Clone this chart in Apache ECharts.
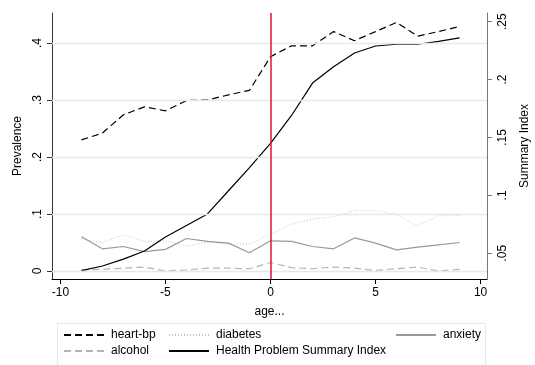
<!DOCTYPE html>
<html>
<head>
<meta charset="utf-8">
<script src="https://cdn.jsdelivr.net/npm/echarts@6/dist/echarts.min.js"></script>
<style>html,body{margin:0;padding:0;background:#fff;}#c{width:535px;height:365px;}</style>
</head>
<body>
<div id="c"></div>
<script>
const ages = [-9,-8,-7,-6,-5,-4,-3,-2,-1,0,1,2,3,4,5,6,7,8,9];
const heartBp = [0.230,0.242,0.274,0.288,0.281,0.299,0.300,0.309,0.317,0.376,0.395,0.395,0.420,0.404,0.420,0.436,0.412,0.420,0.429];
const diabetes = [0.056,0.050,0.063,0.052,0.053,0.044,0.050,0.047,0.047,0.065,0.082,0.091,0.095,0.106,0.106,0.099,0.079,0.097,0.097];
const anxiety = [0.060,0.039,0.043,0.034,0.038,0.057,0.052,0.049,0.032,0.053,0.052,0.043,0.039,0.058,0.049,0.037,0.042,0.046,0.050];
const alcohol = [0.002,0.003,0.005,0.007,0.000,0.002,0.005,0.005,0.004,0.015,0.006,0.004,0.007,0.005,0.001,0.004,0.007,0.000,0.003];
const summaryIndex = [0.035,0.039,0.045,0.052,0.064,0.074,0.084,0.104,0.124,0.145,0.169,0.197,0.211,0.223,0.229,0.2305,0.2305,0.233,0.236];

const xTicks = [-10,-5,0,5,10];
const leftTicks = [0,0.1,0.2,0.3,0.4];
const leftTickLabels = ['0','.1','.2','.3','.4'];
const rightTicks = [0.05,0.1,0.15,0.2,0.25];
const rightTickLabels = ['.05','.1','.15','.2','.25'];
const cutoff = 0;

const FONT = 'Liberation Sans';
function pairs(ys){ return ages.map((a,i)=>[a,ys[i]]); }
function lbl(ticks, labels){ return v => { const i = ticks.findIndex(t=>Math.abs(t-v)<1e-9); return i>=0?labels[i]:''; }; }
const legendBase = {orient:'vertical',top:329,padding:0,itemWidth:40,itemHeight:14,itemGap:4,
  itemStyle:{opacity:0},
  textStyle:{fontFamily:FONT,fontSize:12,color:'#000',padding:[0,0,0,2]}};

const chart = echarts.init(document.getElementById('c'), null, {renderer:'canvas'});
chart.setOption({
  animation:false,
  backgroundColor:'#fff',
  textStyle:{fontFamily:FONT},
  grid:{left:52,right:48,top:13,bottom:86,containLabel:false,outerBoundsMode:'none'},
  xAxis:{
    type:'value', min:-10.40, max:10.305,
    name:'age...', nameLocation:'middle', nameGap:27,
    nameTextStyle:{fontFamily:FONT,fontSize:12,color:'#000'},
    axisLine:{show:true,onZero:false,lineStyle:{color:'#000',width:1}},
    axisTick:{show:true,length:5,customValues:xTicks,lineStyle:{color:'#000'}},
    axisLabel:{customValues:xTicks,fontFamily:FONT,fontSize:12,color:'#000',margin:8},
    splitLine:{show:false}
  },
  yAxis:[{
    type:'value', min:-0.014, max:0.4526, position:'left',
    name:'Prevalence', nameLocation:'middle', nameGap:28, nameRotate:90,
    nameTextStyle:{fontFamily:FONT,fontSize:12,color:'#000'},
    axisLine:{show:true,onZero:false,lineStyle:{color:'#333',width:1}},
    axisTick:{show:true,length:5,customValues:leftTicks,lineStyle:{color:'#333'}},
    axisLabel:{customValues:leftTicks,rotate:90,fontFamily:FONT,fontSize:12,color:'#000',margin:8,formatter:lbl(leftTicks,leftTickLabels)},
    splitLine:{show:false}
  },{
    type:'value', min:0.0278, max:0.2575, position:'right',
    name:'Summary Index', nameLocation:'middle', nameGap:32, nameRotate:90,
    nameTextStyle:{fontFamily:FONT,fontSize:12,color:'#000'},
    axisLine:{show:true,onZero:false,lineStyle:{color:'#777',width:1}},
    axisTick:{show:true,length:5,customValues:rightTicks,lineStyle:{color:'#777'}},
    axisLabel:{customValues:rightTicks,rotate:90,fontFamily:FONT,fontSize:12,color:'#000',margin:10,formatter:lbl(rightTicks,rightTickLabels)},
    splitLine:{show:false}
  }],
  legend:[
    Object.assign({left:63,data:['heart-bp','alcohol']},legendBase),
    Object.assign({left:168,data:['diabetes','Health Problem Summary Index']},legendBase),
    Object.assign({left:395,data:['anxiety']},legendBase)
  ],
  graphic:[{type:'rect',shape:{x:57.5,y:323.5,width:428,height:50},style:{fill:'none',stroke:'#e3eaec',lineWidth:1},silent:true}],
  series:[
    {name:'grid',type:'line',yAxisIndex:0,data:[],z:1,silent:true,
     markLine:{silent:true,symbol:'none',label:{show:false},animation:false,
       lineStyle:{color:'#e2eaec',width:1.3,type:'solid'},
       emphasis:{disabled:true},
       data:leftTicks.map(v=>({yAxis:v}))}},
    {name:'heart-bp',type:'line',yAxisIndex:0,data:pairs(heartBp),symbol:'none',z:3,
     lineStyle:{color:'#000',width:1.2,type:[7,4]},itemStyle:{color:'#000'}},
    {name:'diabetes',type:'line',yAxisIndex:0,data:pairs(diabetes),symbol:'none',z:3,
     lineStyle:{color:'#c4c4c4',width:1,type:[1,2]},itemStyle:{color:'#c4c4c4'}},
    {name:'anxiety',type:'line',yAxisIndex:0,data:pairs(anxiety),symbol:'none',z:3,
     lineStyle:{color:'#999',width:1.2,type:'solid'},itemStyle:{color:'#999'}},
    {name:'alcohol',type:'line',yAxisIndex:0,data:pairs(alcohol),symbol:'none',z:3,
     lineStyle:{color:'#b5b5b5',width:1.2,type:[7,4]},itemStyle:{color:'#b5b5b5'}},
    {name:'Health Problem Summary Index',type:'line',yAxisIndex:1,data:pairs(summaryIndex),symbol:'none',z:3,
     lineStyle:{color:'#000',width:1.2,type:'solid'},itemStyle:{color:'#000'}},
    {name:'cutoff',type:'line',yAxisIndex:0,data:[],z:4,silent:true,
     markLine:{silent:true,symbol:'none',label:{show:false},animation:false,
       lineStyle:{color:'#e0103c',width:1.5,type:'solid',opacity:1},
       emphasis:{disabled:true},
       data:[{xAxis:cutoff}]}}
  ]
});
</script>
</body>
</html>
